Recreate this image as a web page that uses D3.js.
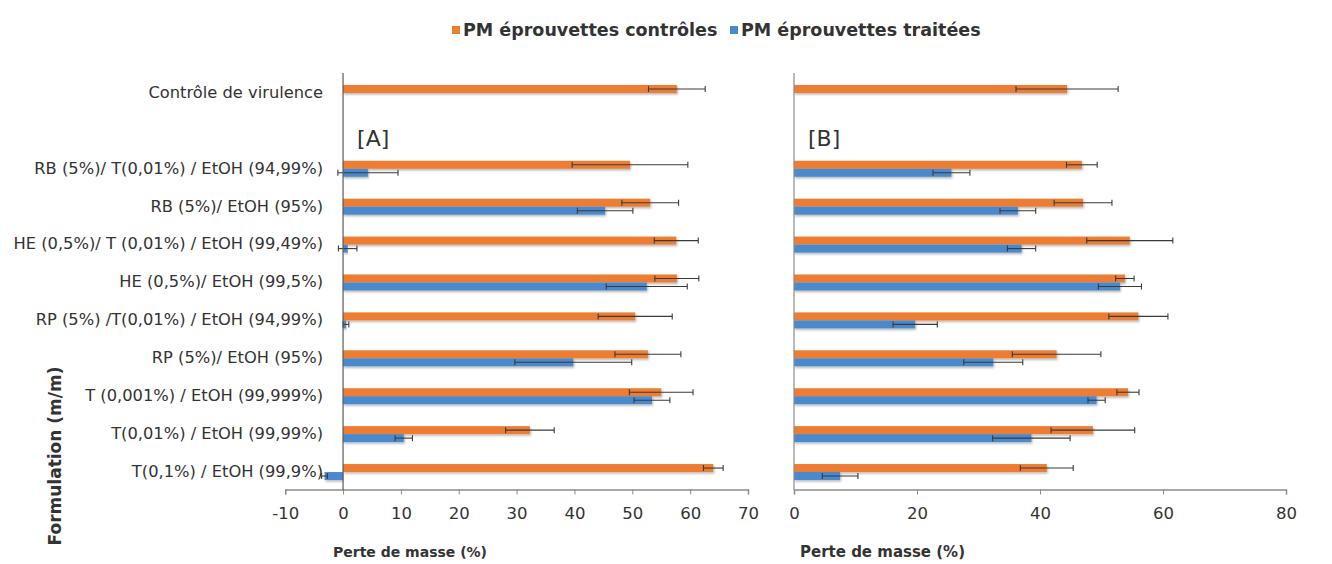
<!DOCTYPE html>
<html><head><meta charset="utf-8">
<script src="https://cdn.jsdelivr.net/npm/d3@7"></script>
<style>body{margin:0;background:#fff}svg{display:block}text{font-family:"DejaVu Sans",Verdana,sans-serif;fill:#333}</style>
</head><body><svg id="c" width="1332" height="564"></svg>
<script>
const categories = ["Contrôle de virulence", "", "RB (5%)/ T(0,01%) / EtOH (94,99%)", "RB (5%)/ EtOH (95%)",
  "HE (0,5%)/ T (0,01%) / EtOH (99,49%)", "HE (0,5%)/ EtOH (99,5%)", "RP (5%) /T(0,01%) / EtOH (94,99%)",
  "RP (5%)/ EtOH (95%)", "T (0,001%) / EtOH (99,999%)", "T(0,01%) / EtOH (99,99%)", "T(0,1%) / EtOH (99,9%)"];
// Panel A
const controlA = [57.7, null, 49.6, 53.1, 57.6, 57.7, 50.5, 52.7, 55.0, 32.3, 64.0];
const controlAErr = [4.9, null, 10.0, 4.9, 3.8, 3.8, 6.4, 5.7, 5.5, 4.2, 1.7];
const treatedA = [null, null, 4.3, 45.3, 0.8, 52.5, 0.5, 39.8, 53.4, 10.5, -3.2];
const treatedAErr = [null, null, 5.2, 4.8, 1.6, 7.0, 0.5, 10.1, 3.1, 1.5, 0.5];
// Panel B
const controlB = [44.4, null, 46.8, 47.0, 54.6, 53.8, 56.0, 42.7, 54.3, 48.6, 41.1];
const controlBErr = [8.3, null, 2.5, 4.7, 7.0, 1.5, 4.8, 7.2, 1.8, 6.8, 4.3];
const treatedB = [null, null, 25.6, 36.4, 37.0, 53.0, 19.7, 32.4, 49.2, 38.6, 7.5];
const treatedBErr = [null, null, 3.0, 2.9, 2.3, 3.5, 3.6, 4.8, 1.4, 6.3, 2.9];
const ticksA = [-10, 0, 10, 20, 30, 40, 50, 60, 70];
const ticksB = [0, 20, 40, 60, 80];
const seriesNames = ["PM éprouvettes contrôles", "PM éprouvettes traitées"];
const xTitle = "Perte de masse (%)";
const yTitle = "Formulation (m/m)";

const ORANGE = "#ED7D31", BLUE = "#4A89CC";
const svg = d3.select("#c");
const keys = categories.map((c, i) => i);
const y = d3.scaleBand().domain(keys).range([73, 490]).padding(0);

const defs = svg.append("defs");
const f = defs.append("filter").attr("id", "sh").attr("x", "-5%").attr("y", "-50%").attr("width", "110%").attr("height", "200%");
f.append("feDropShadow").attr("dx", 1).attr("dy", 1.5).attr("stdDeviation", 0.8).attr("flood-color", "#000").attr("flood-opacity", 0.3);

function panel(xr, domain, ticks, ctrl, ctrlE, trt, trtE, tag, showLabels, titleX, titleSize, axisColor) {
  const x = d3.scaleLinear().domain(domain).range(xr);
  const g = svg.append("g");
  const cy = i => y(i) + y.bandwidth() / 2;
  const bh = 8;
  const drawBars = (vals, color, off) => {
    g.selectAll(null).data(keys.filter(i => vals[i] != null)).enter().append("rect")
      .attr("x", i => Math.min(x(0), x(vals[i])))
      .attr("width", i => Math.abs(x(vals[i]) - x(0)))
      .attr("y", i => cy(i) + off).attr("height", bh)
      .attr("fill", color).attr("filter", "url(#sh)");
  };
  drawBars(ctrl, ORANGE, -7);
  drawBars(trt, BLUE, 1);
  const drawErr = (vals, errs, off) => {
    const ids = keys.filter(i => vals[i] != null);
    const eg = g.append("g").attr("stroke", "#3a3a3a").attr("stroke-width", 1.1);
    eg.selectAll(null).data(ids).enter().append("line")
      .attr("x1", i => x(vals[i] - errs[i])).attr("x2", i => x(vals[i] + errs[i]))
      .attr("y1", i => cy(i) + off + bh / 2).attr("y2", i => cy(i) + off + bh / 2);
    [-1, 1].forEach(s => {
      eg.selectAll(null).data(ids).enter().append("line")
        .attr("x1", i => x(vals[i] + s * errs[i])).attr("x2", i => x(vals[i] + s * errs[i]))
        .attr("y1", i => cy(i) + off + 1).attr("y2", i => cy(i) + off + bh - 1);
    });
  };
  drawErr(ctrl, ctrlE, -7);
  drawErr(trt, trtE, 1);
  const xa = g.append("g").attr("transform", "translate(0,489.5)")
    .call(d3.axisBottom(x).tickValues(ticks).tickSize(5).tickPadding(20).tickFormat(d => String(d)));
  xa.select(".domain").attr("stroke", "#8c8c8c").attr("stroke-width", 1.5);
  xa.selectAll(".tick line").attr("stroke", "#8c8c8c");
  xa.selectAll(".tick text").attr("font-size", 16.5).attr("fill", "#333").attr("dy", "0.3em")
    .style("font-family", "DejaVu Sans, Verdana, sans-serif");
  g.append("line").attr("x1", x(0)).attr("x2", x(0)).attr("y1", 73).attr("y2", 490)
    .attr("stroke", axisColor).attr("stroke-width", 1.2);
  if (showLabels) {
    g.selectAll(null).data(keys).enter().append("text")
      .attr("x", x(0) - 20).attr("y", i => cy(i)).attr("dy", "0.36em").attr("text-anchor", "end")
      .attr("font-size", 16.3).attr("fill", "#3a3a3a").text(i => categories[i]);
  }
  g.append("text").attr("x", x(0) + 14).attr("y", 146).attr("font-size", 22).attr("fill", "#111").text(tag);
  g.append("text").attr("x", titleX).attr("y", 557).attr("font-size", titleSize).attr("font-weight", "bold").attr("fill", "#222").text(xTitle);
}
panel([285.2, 748], [-10, 70], ticksA, controlA, controlAErr, treatedA, treatedAErr, "[A]", true, 333, 14, "#5a5a5a");
panel([794, 1286], [0, 80], ticksB, controlB, controlBErr, treatedB, treatedBErr, "[B]", false, 800, 15, "#8c8c8c");

svg.append("text").attr("transform", "translate(61,456) rotate(-90)").attr("text-anchor", "middle")
  .attr("font-size", 17).attr("font-weight", "bold").attr("fill", "#222").text(yTitle);

const lg = svg.append("g");
const lx = [452, 730], colors = [ORANGE, BLUE];
seriesNames.forEach((n, i) => {
  lg.append("rect").attr("x", lx[i]).attr("y", 26).attr("width", 8).attr("height", 8).attr("fill", colors[i]);
  lg.append("text").attr("x", lx[i] + 11).attr("y", 30).attr("dy", "0.36em").attr("font-size", 17.5)
    .attr("font-weight", "bold").attr("fill", "#222").text(n);
});
</script></body></html>
